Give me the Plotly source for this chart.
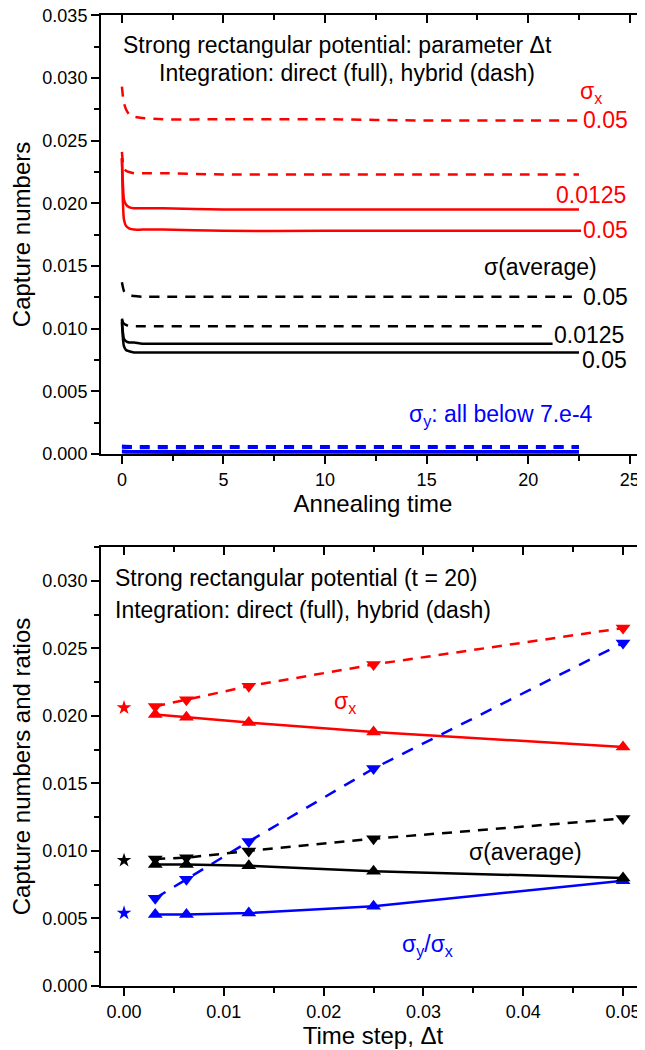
import plotly.graph_objects as go

FONT = "Arial, 'Liberation Sans', sans-serif"
RED = "#ff0000"
BLUE = "#0000ff"
BLACK = "#000000"

# ---------------- top panel: capture numbers vs annealing time ----------------
t_sx_hyb_005 = [0, 0.05, 0.1, 0.2, 0.35, 0.6, 1.0, 2.0, 5, 10, 15, 20, 22.5]
sx_hyb_005 = [0.0293, 0.0285, 0.0280, 0.0275, 0.0271, 0.0269, 0.0268, 0.0267, 0.0267, 0.0267, 0.0266, 0.0266, 0.0266]

t_sx_hyb_0125 = [0, 0.05, 0.1, 0.2, 0.35, 0.6, 1.0, 2.0, 5, 10, 15, 20, 22.5]
sx_hyb_0125 = [0.0241, 0.0232, 0.0228, 0.0226, 0.0225, 0.0224, 0.0224, 0.0224, 0.0223, 0.0223, 0.0223, 0.0223, 0.0223]

t_sx_dir_0125 = [0, 0.05, 0.1, 0.2, 0.35, 0.6, 1.0, 2.0, 5, 10, 15, 20, 22.5]
sx_dir_0125 = [0.0236, 0.0215, 0.0203, 0.0199, 0.0197, 0.0196, 0.0196, 0.0196, 0.0195, 0.0195, 0.0195, 0.0195, 0.0195]

t_sx_dir_005 = [0, 0.05, 0.1, 0.2, 0.35, 0.6, 1.0, 2.0, 5, 10, 15, 20, 22.6]
sx_dir_005 = [0.0236, 0.0200, 0.0187, 0.0182, 0.0180, 0.0179, 0.0179, 0.0179, 0.0178, 0.0178, 0.0178, 0.0178, 0.0178]

t_sa_hyb_005 = [0, 0.05, 0.1, 0.2, 0.35, 0.6, 1.0, 2.0, 5, 10, 15, 20, 22.15]
sa_hyb_005 = [0.0137, 0.0133, 0.0130, 0.0128, 0.0127, 0.0126, 0.01255, 0.01255, 0.01255, 0.01255, 0.01255, 0.01255, 0.01255]

t_sa_hyb_0125 = [0, 0.05, 0.1, 0.2, 0.35, 0.6, 1.0, 2.0, 5, 10, 15, 20, 21.0]
sa_hyb_0125 = [0.0108, 0.0105, 0.0104, 0.0103, 0.0102, 0.0102, 0.0102, 0.0102, 0.0102, 0.0102, 0.0102, 0.0102, 0.0102]

t_sa_dir_0125 = [0, 0.05, 0.1, 0.2, 0.35, 0.6, 1.0, 2.0, 5, 10, 15, 20, 21.2]
sa_dir_0125 = [0.0107, 0.0097, 0.0092, 0.0090, 0.0089, 0.0089, 0.0088, 0.0088, 0.0088, 0.0088, 0.0088, 0.0088, 0.0088]

t_sa_dir_005 = [0, 0.05, 0.1, 0.2, 0.35, 0.6, 1.0, 2.0, 5, 10, 15, 20, 22.5]
sa_dir_005 = [0.0105, 0.0092, 0.0086, 0.0083, 0.0082, 0.0081, 0.0081, 0.0081, 0.0081, 0.0081, 0.0081, 0.0081, 0.0081]

t_sy = [0, 0.5, 5, 10, 15, 20, 22.5]
sy_hyb_a = [0.00065, 0.00062, 0.00062, 0.00062, 0.00062, 0.00062, 0.00062]
sy_hyb_b = [0.00052, 0.00049, 0.00049, 0.00049, 0.00049, 0.00049, 0.00049]
sy_dir_a = [0.00025, 0.00022, 0.00022, 0.00022, 0.00022, 0.00022, 0.00022]
sy_dir_b = [0.00014, 0.00011, 0.00011, 0.00011, 0.00011, 0.00011, 0.00011]

# ---------------- bottom panel: values at t = 20 vs time step ----------------
dt_steps = [0.003125, 0.00625, 0.0125, 0.025, 0.05]
sx_hybrid = [0.0207, 0.0212, 0.0222, 0.0238, 0.0265]
sx_direct = [0.0201, 0.0199, 0.0195, 0.0188, 0.0177]
sa_hybrid = [0.0094, 0.0095, 0.0100, 0.0109, 0.0124]
sa_direct = [0.0090, 0.0090, 0.0089, 0.0085, 0.0080]
ratio_hybrid = [0.0065, 0.0079, 0.0107, 0.0161, 0.0254]
ratio_direct = [0.0053, 0.0053, 0.0054, 0.0059, 0.0078]
dt_star = [0.0]
sx_star = [0.0206]
sa_star = [0.0093]
ratio_star = [0.0054]

fig = go.Figure()

DASH = "10px,8px"


def top_line(t, v, color, dash):
    fig.add_trace(go.Scatter(
        x=t, y=v, mode="lines", xaxis="x", yaxis="y",
        line=dict(color=color, width=2.5, dash=dash, shape="spline", smoothing=0.6),
        showlegend=False, hoverinfo="skip"))


top_line(t_sx_hyb_005, sx_hyb_005, RED, DASH)
top_line(t_sx_hyb_0125, sx_hyb_0125, RED, DASH)
top_line(t_sx_dir_0125, sx_dir_0125, RED, "solid")
top_line(t_sx_dir_005, sx_dir_005, RED, "solid")
top_line(t_sa_hyb_005, sa_hyb_005, BLACK, DASH)
top_line(t_sa_hyb_0125, sa_hyb_0125, BLACK, DASH)
top_line(t_sa_dir_0125, sa_dir_0125, BLACK, "solid")
top_line(t_sa_dir_005, sa_dir_005, BLACK, "solid")
top_line(t_sy, sy_hyb_a, BLUE, DASH)
top_line(t_sy, sy_hyb_b, BLUE, DASH)
top_line(t_sy, sy_dir_a, BLUE, "solid")
top_line(t_sy, sy_dir_b, BLUE, "solid")


def bot_line(x, v, color, dash, symbol):
    fig.add_trace(go.Scatter(
        x=x, y=v, mode="lines+markers", xaxis="x2", yaxis="y2",
        line=dict(color=color, width=2.5, dash=dash),
        marker=dict(symbol=symbol, size=13, color=color),
        showlegend=False, hoverinfo="skip"))


bot_line(dt_steps, sx_hybrid, RED, DASH, "triangle-down")
bot_line(dt_steps, sx_direct, RED, "solid", "triangle-up")
bot_line(dt_steps, ratio_hybrid, BLUE, "12px,10px", "triangle-down")
bot_line(dt_steps, ratio_direct, BLUE, "solid", "triangle-up")
bot_line(dt_steps, sa_hybrid, BLACK, DASH, "triangle-down")
bot_line(dt_steps, sa_direct, BLACK, "solid", "triangle-up")

for yv, c in ((sx_star, RED), (sa_star, BLACK), (ratio_star, BLUE)):
    fig.add_trace(go.Scatter(
        x=dt_star, y=yv, mode="markers", xaxis="x2", yaxis="y2",
        marker=dict(symbol="star", size=11, color=c),
        showlegend=False, hoverinfo="skip"))

# invisible traces that realise the mirrored (top / right) tick axes
for xa, ya in (("x3", "y"), ("x", "y3"), ("x4", "y2"), ("x2", "y4")):
    fig.add_trace(go.Scatter(x=[None], y=[None], xaxis=xa, yaxis=ya, mode="lines",
                             showlegend=False, hoverinfo="skip"))

TOP_X = [-1.03, 25.75]
TOP_Y = [0, 0.03502]
BOT_X = [-0.00231, 0.0522]
BOT_Y = [0, 0.0325]

tickfont = dict(family=FONT, size=18, color="black")
titlefont = dict(family=FONT, size=24, color="black")

common = dict(showgrid=False, zeroline=False, showline=True, linecolor="black",
              linewidth=2, ticks="outside", ticklen=8, tickwidth=2, tickcolor="black",
              tickfont=tickfont, automargin=False, ticklabeloverflow="allow")

mirror_common = dict(showgrid=False, zeroline=False, ticks="inside", ticklen=8,
                     tickwidth=2, tickcolor="black", showticklabels=False,
                     showline=False, automargin=False)


def minor(d, where):
    return dict(dtick=d, ticks=where, ticklen=5, tickwidth=2, tickcolor="black")


# the page body adds an 8px margin, so the figure is sized to fit the window
fig.update_layout(
    width=637, height=1042,
    margin=dict(l=93, r=0, t=7, b=64),
    paper_bgcolor="white", plot_bgcolor="white",
    font=dict(family=FONT, color="black"),
    xaxis=dict(domain=[0, 1], anchor="y", range=TOP_X, dtick=5, tick0=0, mirror=True,
               minor=minor(2.5, "outside"),
               title=dict(text="Annealing time", font=titlefont, standoff=4), **common),
    yaxis=dict(domain=[0.5479, 1], anchor="x", range=TOP_Y, dtick=0.005, tick0=0,
               tickformat=".3f", minor=minor(0.0025, "outside"),
               title=dict(text="Capture numbers", font=titlefont, standoff=8), **common),
    xaxis2=dict(domain=[0, 1], anchor="y2", range=BOT_X, dtick=0.01, tick0=0, mirror=True,
                tickformat=".2f", minor=minor(0.005, "outside"),
                title=dict(text="Time step, Δt", font=titlefont, standoff=4), **common),
    yaxis2=dict(domain=[0, 0.4521], anchor="x2", range=BOT_Y, dtick=0.005, tick0=0,
                tickformat=".3f", minor=minor(0.0025, "outside"),
                title=dict(text="Capture numbers and ratios", font=titlefont, standoff=8), **common),
    xaxis3=dict(overlaying="x", anchor="y", side="top", range=TOP_X, dtick=5, tick0=0,
                minor=minor(2.5, "inside"), **mirror_common),
    yaxis3=dict(overlaying="y", anchor="x", side="right", range=TOP_Y, dtick=0.005, tick0=0,
                minor=minor(0.0025, "inside"), **mirror_common),
    xaxis4=dict(overlaying="x2", anchor="y2", side="top", range=BOT_X, dtick=0.01, tick0=0,
                minor=minor(0.005, "inside"), **mirror_common),
    yaxis4=dict(overlaying="y2", anchor="x2", side="right", range=BOT_Y, dtick=0.005, tick0=0,
                minor=minor(0.0025, "inside"), **mirror_common),
)

TXT = 23


def note(text, x, y, color, xref, yref, xanchor="left", size=TXT):
    fig.add_annotation(text=text, x=x, y=y, xref=xref, yref=yref, xanchor=xanchor,
                       yanchor="middle", showarrow=False, borderpad=0,
                       font=dict(family=FONT, size=size, color=color))


# top panel texts
note("Strong rectangular potential: parameter Δt", 10.62, 0.03262, BLACK, "x", "y", "center")
note("Integration: direct (full), hybrid (dash)", 11.1, 0.03038, BLACK, "x", "y", "center")
note("σ<sub>x</sub>", 23.1, 0.0288, RED, "x", "y", "center")
note("0.05", 22.66, 0.02663, RED, "x", "y")
note("0.0125", 24.88, 0.02065, RED, "x", "y", "right")
note("0.05", 22.66, 0.01786, RED, "x", "y")
note("σ(average)", 23.45, 0.01491, BLACK, "x", "y", "right")
note("0.05", 22.66, 0.01252, BLACK, "x", "y")
note("0.0125", 21.23, 0.00949, BLACK, "x", "y")
note("0.05", 22.61, 0.0075, BLACK, "x", "y")
note("σ<sub>y</sub>: all below 7.e-4", 14.09, 0.0031, BLUE, "x", "y")

# bottom panel texts
note("Strong rectangular potential (t = 20)", -0.001, 0.03022, BLACK, "x2", "y2")
note("Integration: direct (full), hybrid (dash)", -0.001, 0.02785, BLACK, "x2", "y2")
note("σ<sub>x</sub>", 0.0209, 0.0210, RED, "x2", "y2")
note("σ(average)", 0.03447, 0.00993, BLACK, "x2", "y2")
note("σ<sub>y</sub>/σ<sub>x</sub>", 0.02774, 0.0030, BLUE, "x2", "y2")

fig.write_html("out.html")
